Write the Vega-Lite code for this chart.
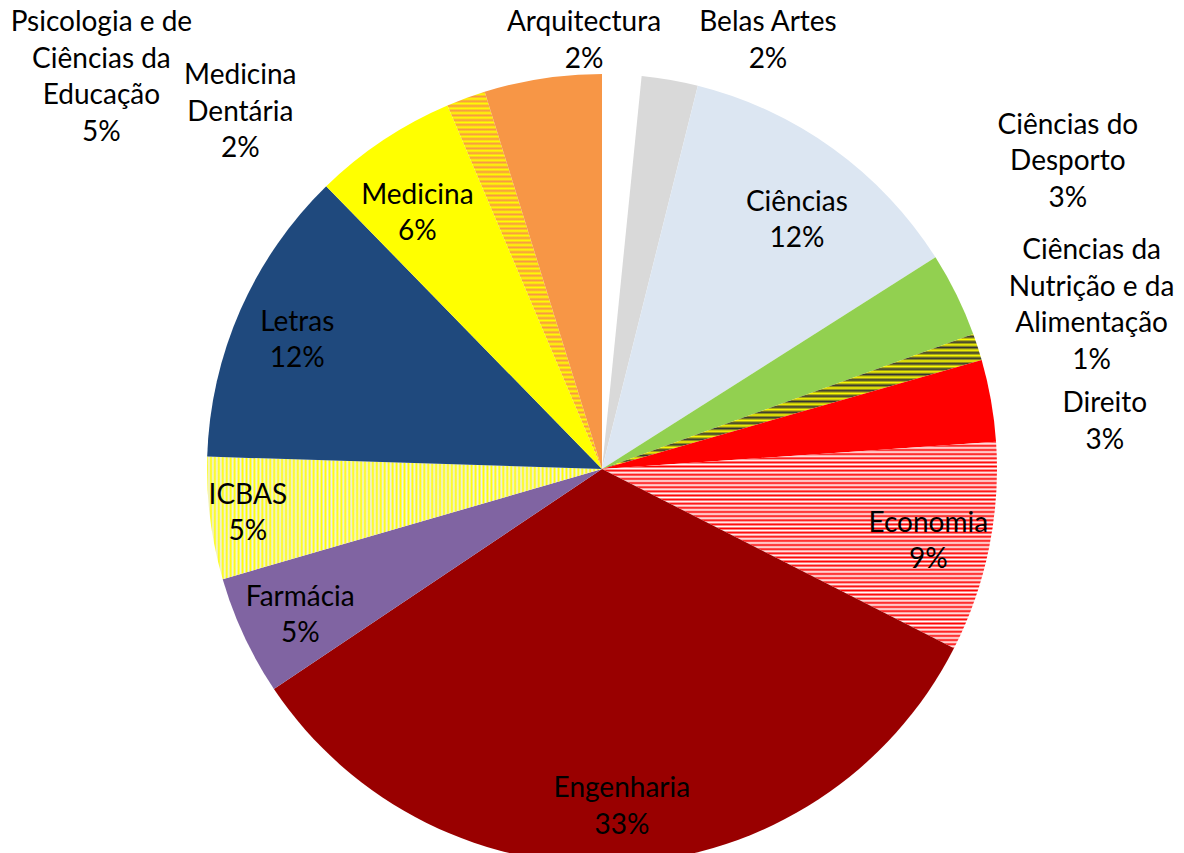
{
"$schema":"https://vega.github.io/schema/vega-lite/v6.json",
"width":1164,"height":768,
"autosize":{"type":"none"},
"padding":{"left":20,"top":85,"right":0,"bottom":0},
"background":"white",
"config":{"view":{"stroke":null},"text":{"font":"Lato","fontSize":28,"align":"center","baseline":"middle","lineBreak":"\n","lineHeight":36.5,"fill":"#000000"}},
"data":{"values":[
{"name":"Arquitectura","v":1.6,"label":"Arquitectura\n2%"},
{"name":"Belas Artes","v":2.3,"label":"Belas Artes\n2%"},
{"name":"Ciências","v":12.1,"label":"Ciências\n12%"},
{"name":"Ciências do Desporto","v":3.45,"label":"Ciências do\nDesporto\n3%"},
{"name":"Ciências da Nutrição e da Alimentação","v":1.1,"label":"Ciências da\nNutrição e da\nAlimentação\n1%"},
{"name":"Direito","v":3.35,"label":"Direito\n3%"},
{"name":"Economia","v":8.6,"label":"Economia\n9%"},
{"name":"Engenharia","v":33.1,"label":"Engenharia\n33%"},
{"name":"Farmácia","v":4.9,"label":"Farmácia\n5%"},
{"name":"ICBAS","v":5.0,"label":"ICBAS\n5%"},
{"name":"Letras","v":12.2,"label":"Letras\n12%"},
{"name":"Medicina","v":5.9,"label":"Medicina\n6%"},
{"name":"Medicina Dentária","v":1.6,"label":"Medicina\nDentária\n2%"},
{"name":"Psicologia e de Ciências da Educação","v":4.8,"label":"Psicologia e de\nCiências da\nEducação\n5%"}
]},
"transform":[{"window":[{"op":"row_number","as":"rank"}]}],
"encoding":{
"theta":{"field":"v","type":"quantitative","stack":true},
"order":{"field":"rank","type":"quantitative"},
"detail":{"field":"name","type":"nominal"}
},
"layer":[
{"mark":{"type":"arc","outerRadius":395},
"encoding":{"color":{
"condition":[
{"test":"datum.name === 'Economia'","value":{"gradient":"linear","x1":0,"y1":0,"x2":0,"y2":1,"stops":[
{"offset":0,"color":"#f00"},{"offset":0.01,"color":"#fff"},{"offset":0.02,"color":"#f00"},{"offset":0.03,"color":"#fff"},{"offset":0.04,"color":"#f00"},{"offset":0.05,"color":"#fff"},{"offset":0.06,"color":"#f00"},{"offset":0.07,"color":"#fff"},{"offset":0.08,"color":"#f00"},{"offset":0.09,"color":"#fff"},
{"offset":0.1,"color":"#f00"},{"offset":0.11,"color":"#fff"},{"offset":0.12,"color":"#f00"},{"offset":0.13,"color":"#fff"},{"offset":0.14,"color":"#f00"},{"offset":0.15,"color":"#fff"},{"offset":0.16,"color":"#f00"},{"offset":0.17,"color":"#fff"},{"offset":0.18,"color":"#f00"},{"offset":0.19,"color":"#fff"},
{"offset":0.2,"color":"#f00"},{"offset":0.21,"color":"#fff"},{"offset":0.22,"color":"#f00"},{"offset":0.23,"color":"#fff"},{"offset":0.24,"color":"#f00"},{"offset":0.25,"color":"#fff"},{"offset":0.26,"color":"#f00"},{"offset":0.27,"color":"#fff"},{"offset":0.28,"color":"#f00"},{"offset":0.29,"color":"#fff"},
{"offset":0.3,"color":"#f00"},{"offset":0.31,"color":"#fff"},{"offset":0.32,"color":"#f00"},{"offset":0.33,"color":"#fff"},{"offset":0.34,"color":"#f00"},{"offset":0.35,"color":"#fff"},{"offset":0.36,"color":"#f00"},{"offset":0.37,"color":"#fff"},{"offset":0.38,"color":"#f00"},{"offset":0.39,"color":"#fff"},
{"offset":0.4,"color":"#f00"},{"offset":0.41,"color":"#fff"},{"offset":0.42,"color":"#f00"},{"offset":0.43,"color":"#fff"},{"offset":0.44,"color":"#f00"},{"offset":0.45,"color":"#fff"},{"offset":0.46,"color":"#f00"},{"offset":0.47,"color":"#fff"},{"offset":0.48,"color":"#f00"},{"offset":0.49,"color":"#fff"},
{"offset":0.5,"color":"#f00"},{"offset":0.51,"color":"#fff"},{"offset":0.52,"color":"#f00"},{"offset":0.53,"color":"#fff"},{"offset":0.54,"color":"#f00"},{"offset":0.55,"color":"#fff"},{"offset":0.56,"color":"#f00"},{"offset":0.57,"color":"#fff"},{"offset":0.58,"color":"#f00"},{"offset":0.59,"color":"#fff"},
{"offset":0.6,"color":"#f00"},{"offset":0.61,"color":"#fff"},{"offset":0.62,"color":"#f00"},{"offset":0.63,"color":"#fff"},{"offset":0.64,"color":"#f00"},{"offset":0.65,"color":"#fff"},{"offset":0.66,"color":"#f00"},{"offset":0.67,"color":"#fff"},{"offset":0.68,"color":"#f00"},{"offset":0.69,"color":"#fff"},
{"offset":0.7,"color":"#f00"},{"offset":0.71,"color":"#fff"},{"offset":0.72,"color":"#f00"},{"offset":0.73,"color":"#fff"},{"offset":0.74,"color":"#f00"},{"offset":0.75,"color":"#fff"},{"offset":0.76,"color":"#f00"},{"offset":0.77,"color":"#fff"},{"offset":0.78,"color":"#f00"},{"offset":0.79,"color":"#fff"},
{"offset":0.8,"color":"#f00"},{"offset":0.81,"color":"#fff"},{"offset":0.82,"color":"#f00"},{"offset":0.83,"color":"#fff"},{"offset":0.84,"color":"#f00"},{"offset":0.85,"color":"#fff"},{"offset":0.86,"color":"#f00"},{"offset":0.87,"color":"#fff"},{"offset":0.88,"color":"#f00"},{"offset":0.89,"color":"#fff"},
{"offset":0.9,"color":"#f00"},{"offset":0.91,"color":"#fff"},{"offset":0.92,"color":"#f00"},{"offset":0.93,"color":"#fff"},{"offset":0.94,"color":"#f00"},{"offset":0.95,"color":"#fff"},{"offset":0.96,"color":"#f00"},{"offset":0.97,"color":"#fff"},{"offset":0.98,"color":"#f00"},{"offset":0.99,"color":"#fff"},
{"offset":1,"color":"#f00"}]}},
{"test":"datum.name === 'Ciências da Nutrição e da Alimentação'","value":{"gradient":"linear","x1":0,"y1":0,"x2":0,"y2":1,"stops":[
{"offset":0,"color":"#ff0"},{"offset":0.02,"color":"#333"},{"offset":0.04,"color":"#ff0"},{"offset":0.06,"color":"#333"},{"offset":0.08,"color":"#ff0"},{"offset":0.1,"color":"#333"},{"offset":0.12,"color":"#ff0"},{"offset":0.14,"color":"#333"},{"offset":0.16,"color":"#ff0"},{"offset":0.18,"color":"#333"},
{"offset":0.2,"color":"#ff0"},{"offset":0.22,"color":"#333"},{"offset":0.24,"color":"#ff0"},{"offset":0.26,"color":"#333"},{"offset":0.28,"color":"#ff0"},{"offset":0.3,"color":"#333"},{"offset":0.32,"color":"#ff0"},{"offset":0.34,"color":"#333"},{"offset":0.36,"color":"#ff0"},{"offset":0.38,"color":"#333"},
{"offset":0.4,"color":"#ff0"},{"offset":0.42,"color":"#333"},{"offset":0.44,"color":"#ff0"},{"offset":0.46,"color":"#333"},{"offset":0.48,"color":"#ff0"},{"offset":0.5,"color":"#333"},{"offset":0.52,"color":"#ff0"},{"offset":0.54,"color":"#333"},{"offset":0.56,"color":"#ff0"},{"offset":0.58,"color":"#333"},
{"offset":0.6,"color":"#ff0"},{"offset":0.62,"color":"#333"},{"offset":0.64,"color":"#ff0"},{"offset":0.66,"color":"#333"},{"offset":0.68,"color":"#ff0"},{"offset":0.7,"color":"#333"},{"offset":0.72,"color":"#ff0"},{"offset":0.74,"color":"#333"},{"offset":0.76,"color":"#ff0"},{"offset":0.78,"color":"#333"},
{"offset":0.8,"color":"#ff0"},{"offset":0.82,"color":"#333"},{"offset":0.84,"color":"#ff0"},{"offset":0.86,"color":"#333"},{"offset":0.88,"color":"#ff0"},{"offset":0.9,"color":"#333"},{"offset":0.92,"color":"#ff0"},{"offset":0.94,"color":"#333"},{"offset":0.96,"color":"#ff0"},{"offset":0.98,"color":"#333"},
{"offset":1,"color":"#ff0"}]}},
{"test":"datum.name === 'ICBAS'","value":{"gradient":"linear","x1":0,"y1":0,"x2":1,"y2":0,"stops":[
{"offset":0,"color":"#ff0"},{"offset":0.005,"color":"#eee"},{"offset":0.01,"color":"#ff0"},{"offset":0.015,"color":"#eee"},{"offset":0.02,"color":"#ff0"},{"offset":0.025,"color":"#eee"},{"offset":0.03,"color":"#ff0"},{"offset":0.035,"color":"#eee"},{"offset":0.04,"color":"#ff0"},{"offset":0.045,"color":"#eee"},{"offset":0.05,"color":"#ff0"},{"offset":0.055,"color":"#eee"},{"offset":0.06,"color":"#ff0"},{"offset":0.065,"color":"#eee"},{"offset":0.07,"color":"#ff0"},{"offset":0.075,"color":"#eee"},{"offset":0.08,"color":"#ff0"},{"offset":0.085,"color":"#eee"},{"offset":0.09,"color":"#ff0"},{"offset":0.095,"color":"#eee"},
{"offset":0.1,"color":"#ff0"},{"offset":0.105,"color":"#eee"},{"offset":0.11,"color":"#ff0"},{"offset":0.115,"color":"#eee"},{"offset":0.12,"color":"#ff0"},{"offset":0.125,"color":"#eee"},{"offset":0.13,"color":"#ff0"},{"offset":0.135,"color":"#eee"},{"offset":0.14,"color":"#ff0"},{"offset":0.145,"color":"#eee"},{"offset":0.15,"color":"#ff0"},{"offset":0.155,"color":"#eee"},{"offset":0.16,"color":"#ff0"},{"offset":0.165,"color":"#eee"},{"offset":0.17,"color":"#ff0"},{"offset":0.175,"color":"#eee"},{"offset":0.18,"color":"#ff0"},{"offset":0.185,"color":"#eee"},{"offset":0.19,"color":"#ff0"},{"offset":0.195,"color":"#eee"},
{"offset":0.2,"color":"#ff0"},{"offset":0.205,"color":"#eee"},{"offset":0.21,"color":"#ff0"},{"offset":0.215,"color":"#eee"},{"offset":0.22,"color":"#ff0"},{"offset":0.225,"color":"#eee"},{"offset":0.23,"color":"#ff0"},{"offset":0.235,"color":"#eee"},{"offset":0.24,"color":"#ff0"},{"offset":0.245,"color":"#eee"},{"offset":0.25,"color":"#ff0"},{"offset":0.255,"color":"#eee"},{"offset":0.26,"color":"#ff0"},{"offset":0.265,"color":"#eee"},{"offset":0.27,"color":"#ff0"},{"offset":0.275,"color":"#eee"},{"offset":0.28,"color":"#ff0"},{"offset":0.285,"color":"#eee"},{"offset":0.29,"color":"#ff0"},{"offset":0.295,"color":"#eee"},
{"offset":0.3,"color":"#ff0"},{"offset":0.305,"color":"#eee"},{"offset":0.31,"color":"#ff0"},{"offset":0.315,"color":"#eee"},{"offset":0.32,"color":"#ff0"},{"offset":0.325,"color":"#eee"},{"offset":0.33,"color":"#ff0"},{"offset":0.335,"color":"#eee"},{"offset":0.34,"color":"#ff0"},{"offset":0.345,"color":"#eee"},{"offset":0.35,"color":"#ff0"},{"offset":0.355,"color":"#eee"},{"offset":0.36,"color":"#ff0"},{"offset":0.365,"color":"#eee"},{"offset":0.37,"color":"#ff0"},{"offset":0.375,"color":"#eee"},{"offset":0.38,"color":"#ff0"},{"offset":0.385,"color":"#eee"},{"offset":0.39,"color":"#ff0"},{"offset":0.395,"color":"#eee"},
{"offset":0.4,"color":"#ff0"},{"offset":0.405,"color":"#eee"},{"offset":0.41,"color":"#ff0"},{"offset":0.415,"color":"#eee"},{"offset":0.42,"color":"#ff0"},{"offset":0.425,"color":"#eee"},{"offset":0.43,"color":"#ff0"},{"offset":0.435,"color":"#eee"},{"offset":0.44,"color":"#ff0"},{"offset":0.445,"color":"#eee"},{"offset":0.45,"color":"#ff0"},{"offset":0.455,"color":"#eee"},{"offset":0.46,"color":"#ff0"},{"offset":0.465,"color":"#eee"},{"offset":0.47,"color":"#ff0"},{"offset":0.475,"color":"#eee"},{"offset":0.48,"color":"#ff0"},{"offset":0.485,"color":"#eee"},{"offset":0.49,"color":"#ff0"},{"offset":0.495,"color":"#eee"},
{"offset":0.5,"color":"#ff0"},{"offset":0.505,"color":"#eee"},{"offset":0.51,"color":"#ff0"},{"offset":0.515,"color":"#eee"},{"offset":0.52,"color":"#ff0"},{"offset":0.525,"color":"#eee"},{"offset":0.53,"color":"#ff0"},{"offset":0.535,"color":"#eee"},{"offset":0.54,"color":"#ff0"},{"offset":0.545,"color":"#eee"},{"offset":0.55,"color":"#ff0"},{"offset":0.555,"color":"#eee"},{"offset":0.56,"color":"#ff0"},{"offset":0.565,"color":"#eee"},{"offset":0.57,"color":"#ff0"},{"offset":0.575,"color":"#eee"},{"offset":0.58,"color":"#ff0"},{"offset":0.585,"color":"#eee"},{"offset":0.59,"color":"#ff0"},{"offset":0.595,"color":"#eee"},
{"offset":0.6,"color":"#ff0"},{"offset":0.605,"color":"#eee"},{"offset":0.61,"color":"#ff0"},{"offset":0.615,"color":"#eee"},{"offset":0.62,"color":"#ff0"},{"offset":0.625,"color":"#eee"},{"offset":0.63,"color":"#ff0"},{"offset":0.635,"color":"#eee"},{"offset":0.64,"color":"#ff0"},{"offset":0.645,"color":"#eee"},{"offset":0.65,"color":"#ff0"},{"offset":0.655,"color":"#eee"},{"offset":0.66,"color":"#ff0"},{"offset":0.665,"color":"#eee"},{"offset":0.67,"color":"#ff0"},{"offset":0.675,"color":"#eee"},{"offset":0.68,"color":"#ff0"},{"offset":0.685,"color":"#eee"},{"offset":0.69,"color":"#ff0"},{"offset":0.695,"color":"#eee"},
{"offset":0.7,"color":"#ff0"},{"offset":0.705,"color":"#eee"},{"offset":0.71,"color":"#ff0"},{"offset":0.715,"color":"#eee"},{"offset":0.72,"color":"#ff0"},{"offset":0.725,"color":"#eee"},{"offset":0.73,"color":"#ff0"},{"offset":0.735,"color":"#eee"},{"offset":0.74,"color":"#ff0"},{"offset":0.745,"color":"#eee"},{"offset":0.75,"color":"#ff0"},{"offset":0.755,"color":"#eee"},{"offset":0.76,"color":"#ff0"},{"offset":0.765,"color":"#eee"},{"offset":0.77,"color":"#ff0"},{"offset":0.775,"color":"#eee"},{"offset":0.78,"color":"#ff0"},{"offset":0.785,"color":"#eee"},{"offset":0.79,"color":"#ff0"},{"offset":0.795,"color":"#eee"},
{"offset":0.8,"color":"#ff0"},{"offset":0.805,"color":"#eee"},{"offset":0.81,"color":"#ff0"},{"offset":0.815,"color":"#eee"},{"offset":0.82,"color":"#ff0"},{"offset":0.825,"color":"#eee"},{"offset":0.83,"color":"#ff0"},{"offset":0.835,"color":"#eee"},{"offset":0.84,"color":"#ff0"},{"offset":0.845,"color":"#eee"},{"offset":0.85,"color":"#ff0"},{"offset":0.855,"color":"#eee"},{"offset":0.86,"color":"#ff0"},{"offset":0.865,"color":"#eee"},{"offset":0.87,"color":"#ff0"},{"offset":0.875,"color":"#eee"},{"offset":0.88,"color":"#ff0"},{"offset":0.885,"color":"#eee"},{"offset":0.89,"color":"#ff0"},{"offset":0.895,"color":"#eee"},
{"offset":0.9,"color":"#ff0"},{"offset":0.905,"color":"#eee"},{"offset":0.91,"color":"#ff0"},{"offset":0.915,"color":"#eee"},{"offset":0.92,"color":"#ff0"},{"offset":0.925,"color":"#eee"},{"offset":0.93,"color":"#ff0"},{"offset":0.935,"color":"#eee"},{"offset":0.94,"color":"#ff0"},{"offset":0.945,"color":"#eee"},{"offset":0.95,"color":"#ff0"},{"offset":0.955,"color":"#eee"},{"offset":0.96,"color":"#ff0"},{"offset":0.965,"color":"#eee"},{"offset":0.97,"color":"#ff0"},{"offset":0.975,"color":"#eee"},{"offset":0.98,"color":"#ff0"},{"offset":0.985,"color":"#eee"},{"offset":0.99,"color":"#ff0"},{"offset":0.995,"color":"#eee"},
{"offset":1,"color":"#ff0"}]}},
{"test":"datum.name === 'Medicina Dentária'","value":{"gradient":"linear","x1":0,"y1":0,"x2":0,"y2":1,"stops":[
{"offset":0,"color":"#f79646"},{"offset":0.00625,"color":"#ff0"},{"offset":0.0125,"color":"#f79646"},{"offset":0.01875,"color":"#ff0"},{"offset":0.025,"color":"#f79646"},{"offset":0.03125,"color":"#ff0"},{"offset":0.0375,"color":"#f79646"},{"offset":0.04375,"color":"#ff0"},{"offset":0.05,"color":"#f79646"},{"offset":0.05625,"color":"#ff0"},{"offset":0.0625,"color":"#f79646"},{"offset":0.06875,"color":"#ff0"},{"offset":0.075,"color":"#f79646"},{"offset":0.08125,"color":"#ff0"},{"offset":0.0875,"color":"#f79646"},{"offset":0.09375,"color":"#ff0"},
{"offset":0.1,"color":"#f79646"},{"offset":0.10625,"color":"#ff0"},{"offset":0.1125,"color":"#f79646"},{"offset":0.11875,"color":"#ff0"},{"offset":0.125,"color":"#f79646"},{"offset":0.13125,"color":"#ff0"},{"offset":0.1375,"color":"#f79646"},{"offset":0.14375,"color":"#ff0"},{"offset":0.15,"color":"#f79646"},{"offset":0.15625,"color":"#ff0"},{"offset":0.1625,"color":"#f79646"},{"offset":0.16875,"color":"#ff0"},{"offset":0.175,"color":"#f79646"},{"offset":0.18125,"color":"#ff0"},{"offset":0.1875,"color":"#f79646"},{"offset":0.19375,"color":"#ff0"},
{"offset":0.2,"color":"#f79646"},{"offset":0.20625,"color":"#ff0"},{"offset":0.2125,"color":"#f79646"},{"offset":0.21875,"color":"#ff0"},{"offset":0.225,"color":"#f79646"},{"offset":0.23125,"color":"#ff0"},{"offset":0.2375,"color":"#f79646"},{"offset":0.24375,"color":"#ff0"},{"offset":0.25,"color":"#f79646"},{"offset":0.25625,"color":"#ff0"},{"offset":0.2625,"color":"#f79646"},{"offset":0.26875,"color":"#ff0"},{"offset":0.275,"color":"#f79646"},{"offset":0.28125,"color":"#ff0"},{"offset":0.2875,"color":"#f79646"},{"offset":0.29375,"color":"#ff0"},
{"offset":0.3,"color":"#f79646"},{"offset":0.30625,"color":"#ff0"},{"offset":0.3125,"color":"#f79646"},{"offset":0.31875,"color":"#ff0"},{"offset":0.325,"color":"#f79646"},{"offset":0.33125,"color":"#ff0"},{"offset":0.3375,"color":"#f79646"},{"offset":0.34375,"color":"#ff0"},{"offset":0.35,"color":"#f79646"},{"offset":0.35625,"color":"#ff0"},{"offset":0.3625,"color":"#f79646"},{"offset":0.36875,"color":"#ff0"},{"offset":0.375,"color":"#f79646"},{"offset":0.38125,"color":"#ff0"},{"offset":0.3875,"color":"#f79646"},{"offset":0.39375,"color":"#ff0"},
{"offset":0.4,"color":"#f79646"},{"offset":0.40625,"color":"#ff0"},{"offset":0.4125,"color":"#f79646"},{"offset":0.41875,"color":"#ff0"},{"offset":0.425,"color":"#f79646"},{"offset":0.43125,"color":"#ff0"},{"offset":0.4375,"color":"#f79646"},{"offset":0.44375,"color":"#ff0"},{"offset":0.45,"color":"#f79646"},{"offset":0.45625,"color":"#ff0"},{"offset":0.4625,"color":"#f79646"},{"offset":0.46875,"color":"#ff0"},{"offset":0.475,"color":"#f79646"},{"offset":0.48125,"color":"#ff0"},{"offset":0.4875,"color":"#f79646"},{"offset":0.49375,"color":"#ff0"},
{"offset":0.5,"color":"#f79646"},{"offset":0.50625,"color":"#ff0"},{"offset":0.5125,"color":"#f79646"},{"offset":0.51875,"color":"#ff0"},{"offset":0.525,"color":"#f79646"},{"offset":0.53125,"color":"#ff0"},{"offset":0.5375,"color":"#f79646"},{"offset":0.54375,"color":"#ff0"},{"offset":0.55,"color":"#f79646"},{"offset":0.55625,"color":"#ff0"},{"offset":0.5625,"color":"#f79646"},{"offset":0.56875,"color":"#ff0"},{"offset":0.575,"color":"#f79646"},{"offset":0.58125,"color":"#ff0"},{"offset":0.5875,"color":"#f79646"},{"offset":0.59375,"color":"#ff0"},
{"offset":0.6,"color":"#f79646"},{"offset":0.60625,"color":"#ff0"},{"offset":0.6125,"color":"#f79646"},{"offset":0.61875,"color":"#ff0"},{"offset":0.625,"color":"#f79646"},{"offset":0.63125,"color":"#ff0"},{"offset":0.6375,"color":"#f79646"},{"offset":0.64375,"color":"#ff0"},{"offset":0.65,"color":"#f79646"},{"offset":0.65625,"color":"#ff0"},{"offset":0.6625,"color":"#f79646"},{"offset":0.66875,"color":"#ff0"},{"offset":0.675,"color":"#f79646"},{"offset":0.68125,"color":"#ff0"},{"offset":0.6875,"color":"#f79646"},{"offset":0.69375,"color":"#ff0"},
{"offset":0.7,"color":"#f79646"},{"offset":0.70625,"color":"#ff0"},{"offset":0.7125,"color":"#f79646"},{"offset":0.71875,"color":"#ff0"},{"offset":0.725,"color":"#f79646"},{"offset":0.73125,"color":"#ff0"},{"offset":0.7375,"color":"#f79646"},{"offset":0.74375,"color":"#ff0"},{"offset":0.75,"color":"#f79646"},{"offset":0.75625,"color":"#ff0"},{"offset":0.7625,"color":"#f79646"},{"offset":0.76875,"color":"#ff0"},{"offset":0.775,"color":"#f79646"},{"offset":0.78125,"color":"#ff0"},{"offset":0.7875,"color":"#f79646"},{"offset":0.79375,"color":"#ff0"},
{"offset":0.8,"color":"#f79646"},{"offset":0.80625,"color":"#ff0"},{"offset":0.8125,"color":"#f79646"},{"offset":0.81875,"color":"#ff0"},{"offset":0.825,"color":"#f79646"},{"offset":0.83125,"color":"#ff0"},{"offset":0.8375,"color":"#f79646"},{"offset":0.84375,"color":"#ff0"},{"offset":0.85,"color":"#f79646"},{"offset":0.85625,"color":"#ff0"},{"offset":0.8625,"color":"#f79646"},{"offset":0.86875,"color":"#ff0"},{"offset":0.875,"color":"#f79646"},{"offset":0.88125,"color":"#ff0"},{"offset":0.8875,"color":"#f79646"},{"offset":0.89375,"color":"#ff0"},
{"offset":0.9,"color":"#f79646"},{"offset":0.90625,"color":"#ff0"},{"offset":0.9125,"color":"#f79646"},{"offset":0.91875,"color":"#ff0"},{"offset":0.925,"color":"#f79646"},{"offset":0.93125,"color":"#ff0"},{"offset":0.9375,"color":"#f79646"},{"offset":0.94375,"color":"#ff0"},{"offset":0.95,"color":"#f79646"},{"offset":0.95625,"color":"#ff0"},{"offset":0.9625,"color":"#f79646"},{"offset":0.96875,"color":"#ff0"},{"offset":0.975,"color":"#f79646"},{"offset":0.98125,"color":"#ff0"},{"offset":0.9875,"color":"#f79646"},{"offset":0.99375,"color":"#ff0"},
{"offset":1,"color":"#f79646"}]}}
],
"field":"name","type":"nominal","legend":null,
"scale":{"domain":["Arquitectura","Belas Artes","Ciências","Ciências do Desporto","Ciências da Nutrição e da Alimentação","Direito","Economia","Engenharia","Farmácia","ICBAS","Letras","Medicina","Medicina Dentária","Psicologia e de Ciências da Educação"],
"range":["#ffffff","#d9d9d9","#dce6f2","#92d050","#ffff00","#ff0000","#ff0000","#990000","#8064a2","#ffff00","#1f497d","#ffff00","#f79646","#f79646"]}
}}},
{"mark":{"type":"text","radius":333,"dy":4},
"encoding":{"text":{"condition":{"test":"indexof(['Ciências','Medicina'], datum.name) >= 0","field":"label"},"value":""}}},
{"mark":{"type":"text","radius":333,"dy":-12},
"encoding":{"text":{"condition":{"test":"indexof(['Economia','Engenharia','Farmácia','Letras'], datum.name) >= 0","field":"label"},"value":""}}},
{"mark":{"type":"text","radius":357,"dy":-18},
"encoding":{"text":{"condition":{"test":"datum.name === 'ICBAS'","field":"label"},"value":""}}},
{"mark":{"type":"text","radius":428,"thetaOffset":-0.0923,"dy":-18},
"encoding":{"text":{"condition":{"test":"datum.name === 'Arquitectura'","field":"label"},"value":""}}},
{"mark":{"type":"text","radius":459,"thetaOffset":0.1972,"dy":-18},
"encoding":{"text":{"condition":{"test":"datum.name === 'Belas Artes'","field":"label"},"value":""}}},
{"mark":{"type":"text","radius":558,"thetaOffset":-0.1258,"dy":-36},
"encoding":{"text":{"condition":{"test":"datum.name === 'Ciências do Desporto'","field":"label"},"value":""}}},
{"mark":{"type":"text","radius":516,"thetaOffset":-0.007,"dy":-55},
"encoding":{"text":{"condition":{"test":"datum.name === 'Ciências da Nutrição e da Alimentação'","field":"label"},"value":""}}},
{"mark":{"type":"text","radius":505,"thetaOffset":0.0812,"dy":-18},
"encoding":{"text":{"condition":{"test":"datum.name === 'Direito'","field":"label"},"value":""}}},
{"mark":{"type":"text","radius":508,"thetaOffset":-0.4405,"dy":-36},
"encoding":{"text":{"condition":{"test":"datum.name === 'Medicina Dentária'","field":"label"},"value":""}}},
{"mark":{"type":"text","radius":635,"thetaOffset":-0.7573,"dy":-55},
"encoding":{"text":{"condition":{"test":"datum.name === 'Psicologia e de Ciências da Educação'","field":"label"},"value":""}}}
]
}
